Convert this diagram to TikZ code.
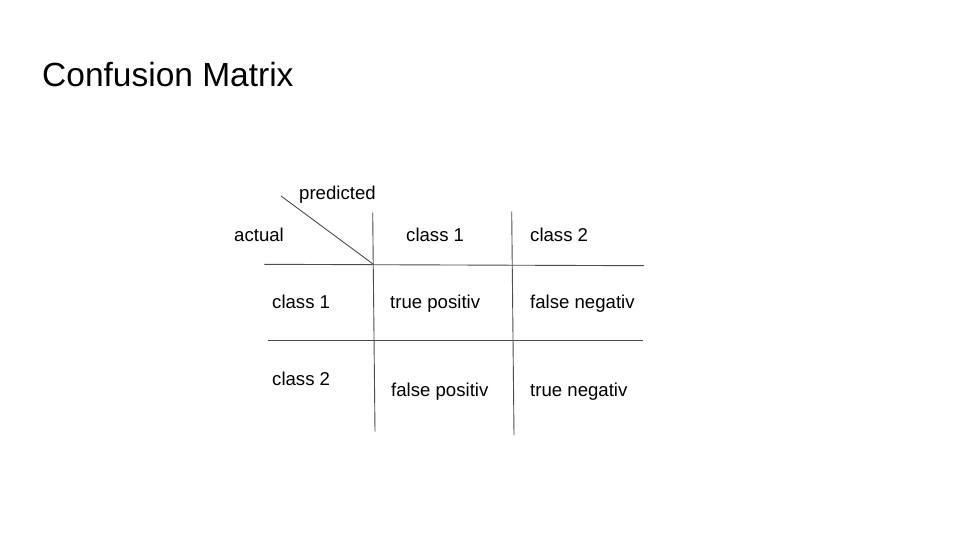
\documentclass[tikz,border=0pt]{standalone}
\usepackage{fontspec}
\setmainfont{Liberation Sans}
\begin{document}
\begin{tikzpicture}[x=1pt,y=-1pt,
  lbl/.style={anchor=base west,inner sep=0pt,font=\fontsize{18.6}{22}\selectfont,text=black},
  ttl/.style={anchor=base west,inner sep=0pt,font=\fontsize{33.5}{40}\selectfont,text=black},
  gridline/.style={draw=black!70,line width=0.9pt}]
\useasboundingbox[fill=white] (0,0) rectangle (960,540);
\node[ttl] (title) at (42,87) {Confusion Matrix};
% grid coordinates
\coordinate (d1) at (281,196);
\coordinate (d2) at (373,264);
\coordinate (v1t) at (372.7,212.7);
\coordinate (v1b) at (375,431.7);
\coordinate (v2t) at (511.7,211.7);
\coordinate (v2b) at (514,435);
\coordinate (h1l) at (264.3,264.3);
\coordinate (h1r) at (644,265.7);
\coordinate (h2l) at (267.7,340.7);
\coordinate (h2r) at (642.7,340.7);
\draw[gridline] (d1) -- (d2);
\draw[gridline] (v1t) -- (v1b);
\draw[gridline] (v2t) -- (v2b);
\draw[gridline] (h1l) -- (h1r);
\draw[gridline] (h2l) -- (h2r);
% labels
\node[lbl] (pred) at (299,199.3) {predicted};
\node[lbl] (act) at (234,241.7) {actual};
\node[lbl] (pc1) at (406,241.7) {class 1};
\node[lbl] (pc2) at (530,241.7) {class 2};
\node[lbl] (ac1) at (272,308) {class 1};
\node[lbl] (ac2) at (272,385) {class 2};
\node[lbl] (tp) at (390,308) {true positiv};
\node[lbl] (fn) at (530,308) {false negativ};
\node[lbl] (fp) at (391,396.7) {false positiv};
\node[lbl] (tn) at (530,396.7) {true negativ};
\end{tikzpicture}
\end{document}
